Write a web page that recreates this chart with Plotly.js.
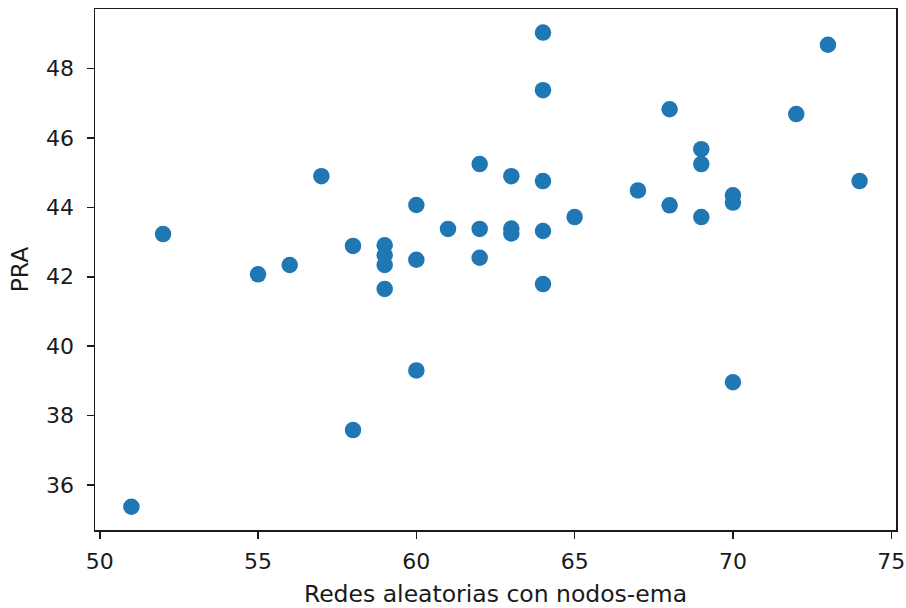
<!DOCTYPE html>
<html>
<head>
<meta charset="utf-8">
<script src="https://cdn.plot.ly/plotly-3.0.1.min.js"></script>
<style>html,body{margin:0;padding:0;background:#fff;}#chart{width:906px;height:608px;}</style>
</head>
<body>
<div id="chart"></div>
<script>
// Data
const redesX = [51, 52, 55, 56, 57, 58, 58, 59, 59, 59, 59, 60, 60, 60, 61, 62, 62, 62, 63, 63, 63, 64, 64, 64, 64, 64, 65, 67, 68, 68, 69, 69, 69, 70, 70, 70, 72, 73, 74];
const praY = [35.37, 43.23, 42.07, 42.34, 44.90, 42.89, 37.58, 42.91, 42.62, 42.34, 41.65, 44.07, 42.49, 39.30, 43.38, 45.25, 43.38, 42.55, 44.90, 43.39, 43.25, 49.04, 47.38, 44.76, 43.32, 41.79, 43.72, 44.49, 46.83, 44.06, 45.68, 45.25, 43.72, 44.35, 44.14, 38.96, 46.69, 48.69, 44.76];
const xTicks = [50, 55, 60, 65, 70, 75];
const yTicks = [36, 38, 40, 42, 44, 46, 48];
const xTitle = "Redes aleatorias con nodos-ema";
const yTitle = "PRA";

const tickFont = {family: "DejaVu Sans", size: 22, color: "#1a1a1a"};
const titleFont = {family: "DejaVu Sans", size: 23.5, color: "#1a1a1a"};

const trace = {
  x: redesX, y: praY, type: "scatter", mode: "markers",
  marker: {color: "#1f77b4", size: 16.5, line: {width: 0}},
  hoverinfo: "x+y"
};

const axisCommon = {
  showgrid: false, zeroline: false, showline: true, mirror: true,
  linecolor: "#1a1a1a", linewidth: 1.5,
  ticks: "outside", ticklen: 7, tickwidth: 1.5, tickcolor: "#1a1a1a",
  tickfont: tickFont
};

const layout = {
  width: 906, height: 608,
  margin: {l: 95, r: 10, t: 9, b: 78},
  paper_bgcolor: "#fff", plot_bgcolor: "#fff",
  showlegend: false,
  font: tickFont,
  xaxis: Object.assign({}, axisCommon, {
    range: [49.85, 75.15], tickvals: xTicks, ticktext: xTicks.map(String),
    ticklabelstandoff: 4,
    title: {text: xTitle, font: titleFont, standoff: 12}
  }),
  yaxis: Object.assign({}, axisCommon, {
    range: [34.7, 49.72], tickvals: yTicks, ticktext: yTicks.map(String),
    ticklabelstandoff: 8,
    title: {text: yTitle, font: titleFont, standoff: 11}
  })
};

Plotly.newPlot("chart", [trace], layout, {displayModeBar: false, staticPlot: true});
</script>
</body>
</html>
